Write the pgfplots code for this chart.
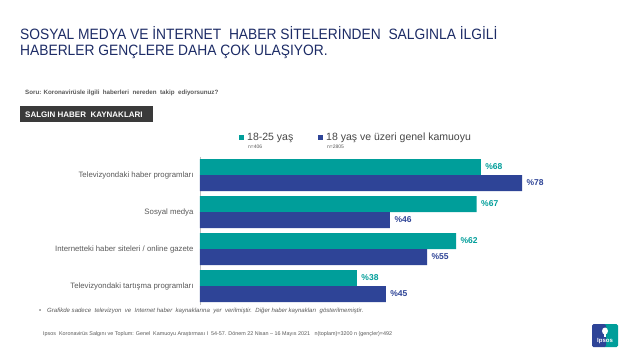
\documentclass[border=0pt]{standalone}
\usepackage{pgfplots}
\pgfplotsset{compat=1.18}
\usepackage{fontspec}
\setmainfont{Liberation Sans}
\newfontfamily\titlefont[FakeStretch=0.92]{Liberation Sans}
\definecolor{tealc}{HTML}{009E9A}
\definecolor{bluec}{HTML}{2E4497}
\definecolor{titlec}{HTML}{1D2C66}
\definecolor{greyt}{HTML}{595959}
\definecolor{boxc}{HTML}{3A3A3A}
\begin{document}
\begin{tikzpicture}[x=1pt,y=1pt]
\fill[white] (0,0) rectangle (640,-360);
% title
\node[anchor=north west, inner sep=0, text=titlec, align=left, font=\titlefont\fontsize{15}{16.5}\selectfont] at (20,-26)
  {SOSYAL MEDYA VE İNTERNET\ \ HABER SİTELERİNDEN\ \ SALGINLA İLGİLİ\\HABERLER GENÇLERE DAHA ÇOK ULAŞIYOR.};
% question
\node[anchor=west, inner sep=0, text=greyt] at (25,-93)
  {\fontsize{6.2}{7}\selectfont\bfseries Soru: Koronavirüsle ilgili\ \ haberleri\ \ nereden\ \ takip\ \ ediyorsunuz?};
% box
\fill[boxc] (20,-106) rectangle (153,-122);
\node[anchor=west, inner sep=0, text=white] at (25,-114.5)
  {\fontsize{8}{9}\selectfont\bfseries SALGIN HABER\ \ KAYNAKLARI};
% legend
\fill[tealc] (239,-134.5) rectangle (244,-139.5);
\node[anchor=west, inner sep=0, text=greyt!80!black] at (247,-137.5) {\fontsize{10.5}{12}\selectfont 18-25 yaş};
\node[anchor=west, inner sep=0, text=greyt] at (248,-146.5) {\fontsize{5}{6}\selectfont n=406};
\fill[bluec] (318,-134.5) rectangle (323,-139.5);
\node[anchor=west, inner sep=0, text=greyt!80!black] at (326,-137.5) {\fontsize{10.5}{12}\selectfont 18 yaş ve üzeri genel kamuoyu};
\node[anchor=west, inner sep=0, text=greyt] at (327,-146.5) {\fontsize{5}{6}\selectfont n=2805};
% chart
\begin{axis}[at={(200pt,-304.5pt)}, anchor=south west, scale only axis,
  width=413pt, height=148pt, xmin=0, xmax=100, ymin=-0.5, ymax=3.5,
  axis x line=none, axis y line*=left,
  y axis line style={-, draw=gray!50},
  ytick={0,1,2,3}, major tick length=0pt,
  yticklabels={Televizyondaki tartışma programları, Internetteki haber siteleri / online gazete, Sosyal medya, Televizyondaki haber programları},
  yticklabel style={font=\fontsize{7.8}{9}\selectfont, text=greyt, xshift=-3pt},
  clip=false,
  /pgf/number format/assume math mode=true,
  nodes near coords={\%\pgfmathprintnumber{\pgfplotspointmeta}},
  point meta=x,
]
\addplot[xbar, bar width=16pt, bar shift=8pt, fill=tealc, draw=none,
  nodes near coords style={anchor=west, xshift=1pt, yshift=8pt, text=tealc, font=\fontsize{8.5}{9}\selectfont\bfseries}]
  coordinates {(38,0) (62,1) (67,2) (68,3)};
\addplot[xbar, bar width=16pt, bar shift=-8pt, fill=bluec, draw=none,
  nodes near coords style={anchor=west, xshift=1pt, yshift=-8pt, text=bluec, font=\fontsize{8.5}{9}\selectfont\bfseries}]
  coordinates {(45,0) (55,1) (46,2) (78,3)};
\end{axis}
% footnote
\node[anchor=west, inner sep=0, text=greyt] at (39,-311) {\fontsize{6}{7}\selectfont •};
\node[anchor=west, inner sep=0, text=greyt] at (47,-311)
  {\fontsize{6.05}{7}\selectfont\itshape Grafikde sadece\ \ televizyon\ \ ve\ \ Internet haber\ \ kaynaklarına\ \ yer\ \ verilmiştir.\ \ Diğer haber kaynakları\ \ gösterilmemiştir.};
\node[anchor=west, inner sep=0, text=greyt] at (43,-334)
  {\fontsize{5.4}{6}\selectfont Ipsos\ \ Koronavirüs Salgını ve Toplum: Genel\ \ Kamuoyu Araştırması I\ \ 54-57. Dönem 22 Nisan – 16 Mayıs 2021\ \ \ n(toplam)=3200 n (gençler)=492};
% logo
\fill[tealc, rounded corners=1.5pt] (603,-324) rectangle (618,-347);
\fill[bluec, rounded corners=1.5pt] (592,-324) rectangle (606,-347);
\fill[white] (605,-331) ellipse (3 and 3.5);
\fill[white] (604,-334) rectangle (606,-337);
\node[text=white, inner sep=0] at (605,-341.5) {\fontsize{6}{7}\selectfont\bfseries Ipsos};
\end{tikzpicture}
\end{document}
